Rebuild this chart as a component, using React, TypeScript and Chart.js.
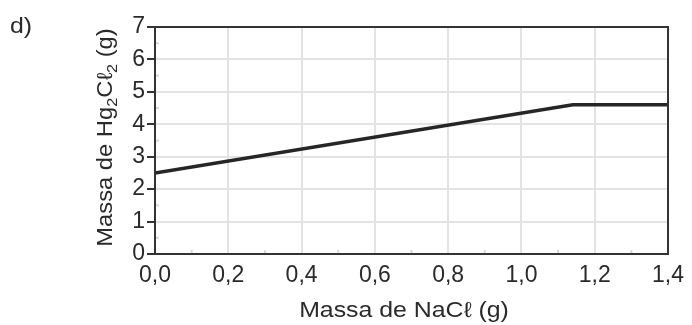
import React, { useEffect, useRef } from "react";
import { Chart, registerables } from "chart.js";

Chart.register(...registerables);

const xTicks = [0, 0.2, 0.4, 0.6, 0.8, 1.0, 1.2, 1.4];
const yTicks = [0, 1, 2, 3, 4, 5, 6, 7];
const xMinor = [0.1, 0.3, 0.5, 0.7, 0.9, 1.1, 1.3];
const yMinor = [0.5, 1.5, 2.5, 3.5, 4.5, 5.5, 6.5];
const massNaCl = [0, 1.14, 1.4];
const massHg2Cl2 = [2.5, 4.6, 4.6];

const FONT = "'Liberation Sans', Arial, sans-serif";
const TXT = "#2a2a2a";
const SX = 1.13;

const decorPlugin = {
  id: "decor",
  beforeDatasetsDraw(chart: any) {
    const { ctx, chartArea: a, scales } = chart;
    ctx.save();
    ctx.strokeStyle = "#d8d8d8";
    ctx.lineWidth = 2;
    xMinor.forEach((v) => {
      const px = scales.x.getPixelForValue(v);
      ctx.beginPath();
      ctx.moveTo(px, a.bottom + 1);
      ctx.lineTo(px, a.bottom - 4);
      ctx.stroke();
    });
    yMinor.forEach((v) => {
      const py = scales.y.getPixelForValue(v);
      ctx.beginPath();
      ctx.moveTo(a.left - 1, py);
      ctx.lineTo(a.left + 4, py);
      ctx.stroke();
    });
    ctx.restore();
  },
  afterDraw(chart: any) {
    const { ctx, chartArea: a } = chart;
    ctx.save();
    ctx.strokeStyle = "#333";
    ctx.lineWidth = 2;
    ctx.strokeRect(a.left, a.top, a.right - a.left, a.bottom - a.top);
    ctx.restore();

    ctx.save();
    ctx.fillStyle = TXT;
    ctx.textBaseline = "alphabetic";
    ctx.font = `22px ${FONT}`;
    ctx.textAlign = "left";
    ctx.translate(10, 33);
    ctx.scale(SX, 1);
    ctx.fillText("d)", 0, 0);
    ctx.restore();

    ctx.save();
    ctx.fillStyle = TXT;
    ctx.font = `22px ${FONT}`;
    ctx.textAlign = "center";
    ctx.translate(404, 317);
    ctx.scale(SX, 1);
    ctx.fillText("Massa de NaC\u2113 (g)", 0, 0);
    ctx.restore();

    // y title with subscripts
    ctx.save();
    ctx.fillStyle = TXT;
    const big = `22px ${FONT}`;
    const small = `15px ${FONT}`;
    const segs: [string, boolean][] = [
      ["Massa de Hg", false],
      ["2", true],
      ["C\u2113", false],
      ["2", true],
      [" (g)", false],
    ];
    let total = 0;
    const widths = segs.map(([t, s]) => {
      ctx.font = s ? small : big;
      const w = ctx.measureText(t).width;
      total += w;
      return w;
    });
    ctx.translate(112, 137.5);
    ctx.rotate(-Math.PI / 2);
    ctx.scale(1.08, 1);
    ctx.textAlign = "left";
    let x = -total / 2;
    segs.forEach(([t, s], i) => {
      ctx.font = s ? small : big;
      ctx.fillText(t, x, s ? 5 : 0);
      x += widths[i];
    });
    ctx.restore();
  },
};

export default function App() {
  const ref = useRef<HTMLCanvasElement>(null);
  useEffect(() => {
    document.body.style.margin = "0";
    const chart = new Chart(ref.current!, {
      type: "line",
      data: {
        datasets: [
          {
            data: massNaCl.map((x, i) => ({ x, y: massHg2Cl2[i] })),
            borderColor: "#262626",
            borderWidth: 3.5,
            pointRadius: 0,
            tension: 0,
            fill: false,
          },
        ],
      },
      options: {
        animation: false,
        responsive: false,
        layout: { padding: { top: 27, right: 20, left: 0, bottom: 0 } },
        plugins: { legend: { display: false }, tooltip: { enabled: false } },
        scales: {
          x: {
            type: "linear",
            min: 0,
            max: 1.4,
            afterBuildTicks: (s: any) => {
              s.ticks = xTicks.map((v) => ({ value: v }));
            },
            afterFit: (s: any) => {
              s.height = 71;
            },
            grid: { color: "#e3e3e3", lineWidth: 2, tickLength: 0, drawTicks: false },
            border: { display: false },
            ticks: {
              padding: 8,
              color: TXT,
              font: { size: 23, family: FONT },
              maxRotation: 0,
              callback: (v: any) => Number(v).toFixed(1).replace(".", ","),
            },
          },
          y: {
            type: "linear",
            min: 0,
            max: 7,
            afterBuildTicks: (s: any) => {
              s.ticks = yTicks.map((v) => ({ value: v }));
            },
            afterFit: (s: any) => {
              s.width = 155;
            },
            grid: { color: "#e3e3e3", lineWidth: 2, tickLength: 8, tickColor: "#333", tickWidth: 2 },
            border: { display: false },
            ticks: {
              padding: 2,
              color: TXT,
              font: { size: 23, family: FONT },
              callback: (v: any) => String(v),
            },
          },
        },
      } as any,
      plugins: [decorPlugin],
    });
    return () => chart.destroy();
  }, []);
  return (
    <div style={{ position: "fixed", left: 0, top: 0, width: 692, height: 325, background: "#fff" }}>
      <canvas ref={ref} width={692} height={325} />
    </div>
  );
}
